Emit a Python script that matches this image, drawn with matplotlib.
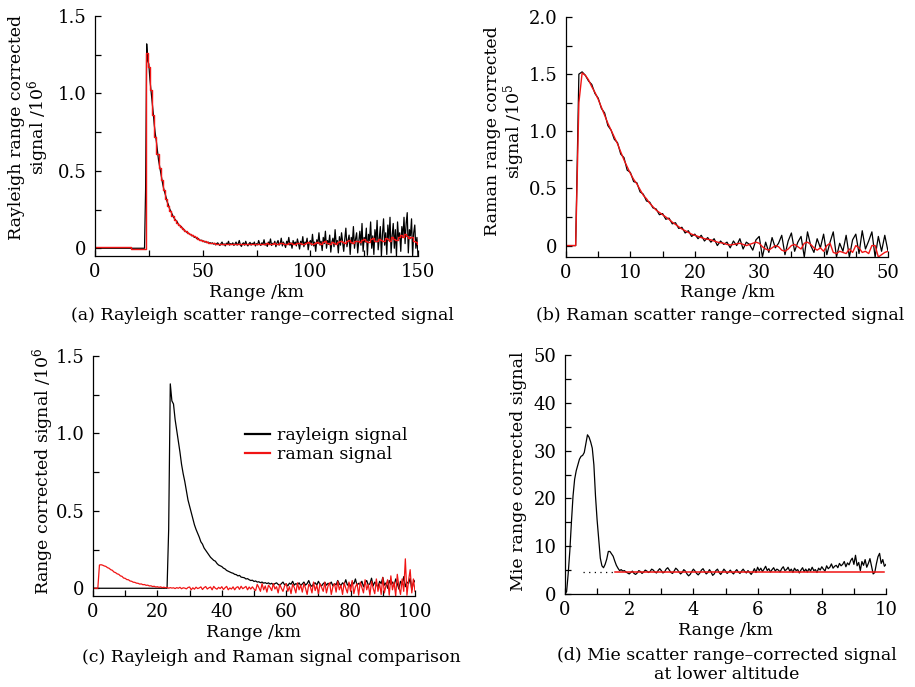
import numpy as np
import matplotlib
matplotlib.use("Agg")
import matplotlib.pyplot as plt
from matplotlib.ticker import MultipleLocator, FuncFormatter

plt.rcParams['font.family'] = ['DejaVu Serif']
plt.rcParams['mathtext.fontset'] = 'dejavuserif'

# ---------------- data ----------------
# Rayleigh raw signal (x10^6), 0.5 km steps from 0 to 150 km
ray_step = 0.5
ray_raw = [0.0] * 47 + [0.38] + [
    1.32, 1.21, 1.19, 1.09, 1.02, 0.95, 0.88, 0.80, 0.74, 0.69, 0.63, 0.57, 0.53, 0.49, 0.45, 0.41, 0.38, 0.355, 0.33, 0.30,
    0.285, 0.26, 0.245, 0.23, 0.215, 0.20, 0.19, 0.18, 0.175, 0.16, 0.15, 0.145, 0.14, 0.13, 0.125, 0.115, 0.11, 0.105, 0.10, 0.097,
    0.09, 0.088, 0.08, 0.083, 0.072, 0.07, 0.068, 0.06, 0.062, 0.055, 0.05, 0.052, 0.044, 0.047, 0.04, 0.042, 0.036, 0.04, 0.033, 0.036,
    0.03, 0.035, 0.027, 0.032, 0.022, 0.03, 0.035, 0.025, 0.018, 0.03, 0.04, 0.022, 0.028, 0.015, 0.033, 0.026, 0.045, 0.02, 0.03, 0.024,
    0.035, 0.018, 0.028, 0.04, 0.02, 0.03, 0.05, 0.022, 0.012, 0.03, 0.035, 0.02, 0.045, 0.025, 0.015, 0.03, 0.038, 0.02, 0.032, 0.026,
    0.04, 0.015, 0.03, 0.022, 0.05, 0.028, 0.018, 0.035, 0.025, 0.055, 0.02, 0.03, 0.012, 0.04, 0.028, 0.06, 0.018, 0.032, 0.025, 0.045,
    0.01, 0.035, 0.05, 0.02, 0.03, 0.065, 0.015, 0.04, 0.025, 0.005, 0.045, 0.03, 0.07, 0.02, 0.035, 0.0, 0.05, 0.025, 0.04, 0.015,
    0.06, 0.03, -0.005, 0.045, 0.025, 0.075, 0.01, 0.04, 0.03, 0.065, -0.01, 0.035, 0.05, 0.02, 0.09, 0.015, 0.04, -0.02, 0.055, 0.03,
    0.1, 0.02, 0.045, -0.015, 0.07, 0.03, 0.11, 0.0, 0.05, 0.025, 0.085, -0.025, 0.04, 0.065, 0.01, 0.12, 0.03, 0.05, -0.03, 0.075,
    0.02, 0.1, 0.04, -0.02, 0.06, 0.13, 0.01, 0.05, 0.085, -0.04, 0.07, 0.03, 0.14, 0.0, 0.06, 0.1, -0.03, 0.045, 0.11, 0.02,
    0.16, -0.02, 0.07, 0.04, 0.13, -0.045, 0.09, 0.05, 0.17, 0.0, 0.08, -0.04, 0.12, 0.04, 0.18, -0.01, 0.06, 0.14, -0.05, 0.09,
    0.19, 0.02, 0.1, -0.04, 0.15, 0.05, 0.2, -0.03, 0.08, 0.16, 0.0, 0.12, -0.05, 0.17, 0.06, 0.1, -0.02, 0.14, 0.07, 0.2,
    0.03, 0.16, 0.23, -0.03, 0.12, 0.08, 0.19, -0.05, 0.1, 0.15, 0.0, 0.07, -0.05,
]
# Rayleigh smoothed signal (x10^6), 1 km steps from 0 to 150 km
ray_smooth_step = 1.0
ray_smooth = [0.005] * 17 + [-0.003] * 7 + [
    1.26, 1.17, 1.02, 0.86, 0.72, 0.61, 0.52, 0.44, 0.375, 0.32,
    0.275, 0.24, 0.21, 0.185, 0.165, 0.15, 0.135, 0.122, 0.11, 0.1,
    0.092, 0.084, 0.077, 0.07, 0.063, 0.056, 0.05, 0.045, 0.041, 0.037,
    0.034, 0.031, 0.029, 0.028, 0.027, 0.026, 0.027, 0.028, 0.026, 0.027,
    0.029, 0.027, 0.026, 0.028, 0.027, 0.025, 0.027, 0.029, 0.028, 0.026,
    0.027, 0.029, 0.03, 0.028, 0.027, 0.03, 0.032, 0.029, 0.028, 0.031,
    0.03, 0.028, 0.032, 0.034, 0.03, 0.027, 0.031, 0.035, 0.03, 0.028,
    0.033, 0.036, 0.03, 0.027, 0.034, 0.038, 0.031, 0.025, 0.033, 0.04,
    0.035, 0.028, 0.04, 0.045, 0.034, 0.03, 0.042, 0.036, 0.028, 0.04,
    0.048, 0.038, 0.032, 0.045, 0.052, 0.04, 0.035, 0.05, 0.044, 0.038,
    0.055, 0.06, 0.045, 0.04, 0.058, 0.065, 0.05, 0.045, 0.062, 0.055,
    0.048, 0.066, 0.06, 0.05, 0.07, 0.062, 0.055, 0.075, 0.085, 0.07,
    0.09, 0.08, 0.065, 0.072, 0.05, 0.04, 0.03,
]
# Raman raw signal (x10^5), 0.5 km steps from 0 to 100 km
ram_step = 0.5
ram_raw = [
    0, 0, 0, 0, 1.50, 1.52, 1.49, 1.44, 1.41, 1.33,
    1.29, 1.20, 1.16, 1.05, 1.01, 0.93, 0.90, 0.80, 0.77, 0.66,
    0.64, 0.56, 0.55, 0.47, 0.45, 0.39, 0.38, 0.33, 0.32, 0.27,
    0.28, 0.23, 0.24, 0.19, 0.2, 0.15, 0.16, 0.11, 0.13, 0.08,
    0.1, 0.06, 0.09, 0.04, 0.07, 0.03, 0.06, 0.0, 0.04, 0.01,
    0.03, -0.02, 0.04, 0.0, 0.06, -0.03, 0.03, 0.01, -0.04, 0.05,
    0.08, -0.1, 0.03, -0.06, 0.07, -0.02, 0.02, 0.09, -0.08, 0.04,
    0.11, -0.05, 0.03, 0.08, -0.1, 0.12, 0.0, -0.06, 0.06, -0.02,
    0.1, -0.08, 0.03, 0.12, -0.1, 0.02, -0.05, 0.09, -0.1, 0.05,
    0.1, -0.07, 0.13, -0.03, 0.04, 0.12, -0.1, 0.08, -0.05, 0.09,
    -0.05, -0.15, 0.25, 0.05, -0.2, 0.3, -0.1, 0.15, -0.25, 0.2, 0.05, -0.15, 0.3, -0.05, 0.1, -0.3, 0.25, 0.0, -0.2, 0.15,
    0.3, -0.2, 0.1, -0.35, 0.25, 0.05, -0.3, 0.35, -0.1, 0.2, -0.25, 0.3, 0.0, -0.4, 0.25, 0.1, -0.3, 0.4, -0.15, 0.2,
    -0.35, 0.3, 0.05, -0.2, 0.4, -0.3, 0.15, 0.35, -0.4, 0.1, 0.3, -0.25, 0.45, -0.1, 0.2, -0.4, 0.35, 0.0, -0.3, 0.4,
    -0.2, 0.5, -0.35, 0.1, 0.3, -0.45, 0.4, 0.05, -0.3, 0.55, -0.1, 0.25, -0.45, 0.45, 0.0, -0.35, 0.6, -0.2, 0.3, -0.4,
    0.7, -0.3, 0.2, 0.55, -0.45, 0.8, -0.1, 0.4, -0.5, 0.9, 0.1, -0.4, 0.6, -0.2, 1.9, -0.45, 0.5, 1.2, -0.3, 0.6,
    -0.2,
]
# Raman smoothed signal (x10^5), 0.5 km steps from 0 to 50 km
ram_smooth = [
    0, 0, 0, 0.0, 1.25, 1.51, 1.49, 1.45, 1.39, 1.34,
    1.28, 1.21, 1.14, 1.07, 1.01, 0.95, 0.89, 0.82, 0.75, 0.69,
    0.63, 0.58, 0.54, 0.49, 0.44, 0.41, 0.37, 0.34, 0.31, 0.29,
    0.27, 0.25, 0.23, 0.205, 0.185, 0.165, 0.145, 0.13, 0.115, 0.1,
    0.09, 0.08, 0.07, 0.06, 0.055, 0.05, 0.04, 0.03, 0.025, 0.02,
    0.01, 0.005, 0.01, 0.015, 0.02, 0.01, 0.0, 0.01, 0.02, 0.03,
    0.02, -0.01, -0.03, -0.04, -0.02, 0.0, -0.01, -0.04, -0.05, -0.03,
    0.0, 0.01, -0.01, -0.03, 0.02, 0.03, 0.01, -0.02, -0.04, -0.02,
    -0.05, 0.0, 0.02, -0.06, -0.07, -0.05, -0.06, -0.07, -0.03, -0.06,
    0.0, -0.02, -0.06, -0.05, -0.07, 0.0, 0.0, -0.1, -0.08, -0.06,
    -0.05,
]
# Mie range-corrected signal, 0.05 km steps from 0 to 10 km
mie_step = 0.05
mie = [
    0.0, 0.5, 4.3, 9.0, 15.0, 20.5, 24.0, 25.8, 27.0, 28.2, 28.8, 29.0, 29.6, 31.5, 33.3, 32.8, 31.8, 30.5, 27.0, 20.5,
    15.5, 11.5, 7.5, 5.9, 5.5, 6.2, 7.3, 8.9, 8.9, 8.4, 7.9, 6.9, 6.0, 5.4, 4.9, 5.1, 4.8, 4.9, 4.6,
    4.4, 4.2, 4.5, 4.8, 4.3, 4.1, 4.4, 4.9, 4.7, 4.3, 4.6, 5.0, 4.8, 4.5, 4.7, 5.2, 5.0, 4.6, 4.4, 4.9,
    5.3, 4.9, 4.4, 4.6, 5.2, 5.5, 5.0, 4.5, 4.3, 4.8, 5.4, 5.1, 4.6, 4.2, 4.5, 5.1, 4.8, 4.2, 3.8, 4.1,
    4.7, 5.2, 4.8, 4.3, 4.0, 4.4, 5.0, 5.3, 4.7, 4.2, 4.5, 5.1, 4.6, 3.9, 4.2, 4.9, 5.2, 4.5, 4.1, 4.6,
    5.2, 4.8, 4.3, 4.6, 5.0, 4.5, 4.2, 4.7, 5.1, 4.6, 4.3, 4.8, 5.2, 4.7, 4.4, 4.9, 4.5, 4.1, 4.6, 5.3,
    4.5, 5.6, 4.9, 5.4, 4.7, 5.2, 5.8, 4.9, 5.3, 4.6, 5.1, 5.5, 4.8, 5.2, 5.0, 4.6, 5.3, 5.7, 4.9, 5.1,
    5.6, 4.8, 5.2, 4.5, 5.4, 4.9, 5.1, 4.4, 5.0, 5.5, 4.7, 5.2, 4.6, 5.3, 4.8, 5.6, 4.9, 5.1, 4.5, 5.4,
    5.0, 5.7, 5.2, 4.8, 5.9, 5.3, 5.6, 6.3, 5.4, 5.8, 6.0, 5.5, 6.4, 5.9, 6.2, 6.8, 5.7, 6.5, 6.1, 7.0,
    7.5, 6.2, 8.1, 5.9, 6.6, 4.9, 6.8, 6.0, 7.2, 5.6, 6.4, 7.4, 5.8, 4.2, 4.5, 6.3, 7.8, 8.5, 6.4, 7.2,
    5.8, 6.2,
]
mie_background = 4.6
mie_bg_range = [1.55, 9.95]
mie_dot_range = [0.55, 1.55]

captions = ["(a) Rayleigh scatter range\u2013corrected signal",
            "(b) Raman scatter range\u2013corrected signal",
            "(c) Rayleigh and Raman signal comparison",
            "(d) Mie scatter range\u2013corrected signal\nat lower altitude"]
legend_labels = ["rayleign signal", "raman signal"]

# ---------------- helpers ----------------
ray_x = np.arange(len(ray_raw)) * ray_step
ray_sx = np.arange(len(ray_smooth)) * ray_smooth_step
ram_x = np.arange(len(ram_raw)) * ram_step
ram_sx = np.arange(len(ram_smooth)) * ram_step
mie_x = np.arange(len(mie)) * mie_step

BLACK = '#000000'
RED = '#f01414'
FS_TICK = 13
FS_LAB = 12.5

W, H = 915, 687
fig = plt.figure(figsize=(9.15, 6.87), dpi=100)


def px_axes(l, t, r, b):
    return fig.add_axes([l / W, 1 - b / H, (r - l) / W, (b - t) / H])


def fmt(v, pos):
    if abs(v) < 1e-9:
        return '0'
    return f'{v:.1f}'


def style(ax, xmaj, xmin, ymaj, ymin, yfmt=None):
    for s in ['top', 'right']:
        ax.spines[s].set_visible(False)
    for s in ['left', 'bottom']:
        ax.spines[s].set_linewidth(0.9)
    ax.xaxis.set_major_locator(MultipleLocator(xmaj))
    ax.xaxis.set_minor_locator(MultipleLocator(xmin))
    ax.yaxis.set_major_locator(MultipleLocator(ymaj))
    ax.yaxis.set_minor_locator(MultipleLocator(ymin))
    ax.tick_params(which='both', direction='in', width=0.9, labelsize=FS_TICK)
    ax.tick_params(which='major', length=4)
    ax.tick_params(which='minor', length=4)
    ax.tick_params(axis='y', pad=6)
    ax.tick_params(axis='x', pad=5)
    if yfmt:
        ax.yaxis.set_major_formatter(FuncFormatter(yfmt))


# (a)
axa = px_axes(95, 16, 418, 256)
axa.plot(ray_x, ray_raw, color=BLACK, lw=0.9)
axa.plot(ray_sx, ray_smooth, color=RED, lw=1.0, drawstyle='steps-mid')
axa.set_xlim(0, 150)
axa.set_ylim(-0.05, 1.5)
style(axa, 50, 25, 0.5, 0.25, fmt)
axa.set_xlabel('Range /km', fontsize=FS_LAB, va='center')
axa.xaxis.set_label_coords(0.5, -0.154)
axa.set_ylabel('Rayleigh range corrected\nsignal /10$^6$', fontsize=FS_LAB,
               va='center', ha='center', multialignment='center', linespacing=1.0)
axa.yaxis.set_label_coords(-0.203, 0.535)

# (b)
axb = px_axes(566, 17, 888, 257)
m = ram_x <= 50
axb.plot(ram_x[m], np.array(ram_raw)[m], color=BLACK, lw=0.9)
axb.plot(ram_sx, ram_smooth, color=RED, lw=1.0)
axb.set_xlim(0, 50)
axb.set_ylim(-0.1, 2.0)
style(axb, 10, 5, 0.5, 0.25, fmt)
axb.set_xlabel('Range /km', fontsize=FS_LAB, va='center')
axb.xaxis.set_label_coords(0.5, -0.15)
axb.set_ylabel('Raman range corrected\nsignal /10$^5$', fontsize=FS_LAB,
               va='center', ha='center', multialignment='center', linespacing=1.0)
axb.yaxis.set_label_coords(-0.189, 0.523)

# (c)
axc = px_axes(93, 356, 415, 596)
m1 = ray_x <= 100
axc.plot(ray_x[m1], np.array(ray_raw)[m1], color=BLACK, lw=0.9,
         label=legend_labels[0])
axc.plot(ram_x, np.array(ram_raw) / 10.0, color=RED, lw=0.9,
         label=legend_labels[1])
axc.set_xlim(0, 100)
axc.set_ylim(-0.05, 1.5)
style(axc, 20, 10, 0.5, 0.25, fmt)
axc.set_xlabel('Range /km', fontsize=FS_LAB, va='center')
axc.xaxis.set_label_coords(0.5, -0.154)
axc.set_ylabel('Range corrected signal /10$^6$', fontsize=FS_LAB, va='center', ha='center')
axc.yaxis.set_label_coords(-0.155, 0.52)
leg = axc.legend(loc='upper left', bbox_to_anchor=(0.472, 0.704), frameon=False,
                 fontsize=FS_LAB, borderpad=0, borderaxespad=0, handlelength=1.45,
                 handletextpad=0.4, labelspacing=0.1)
for ln in leg.get_lines():
    ln.set_linewidth(1.6)

# (d)
axd = px_axes(565, 355, 886, 594)
axd.plot(mie_dot_range, [mie_background, mie_background], color=BLACK, lw=0.9,
         linestyle=(0, (1, 3.5)))
axd.plot(mie_x, mie, color=BLACK, lw=0.9)
axd.plot(mie_bg_range, [mie_background, mie_background], color=RED, lw=1.1)
axd.set_xlim(0, 10)
axd.set_ylim(0, 50)
style(axd, 2, 1, 10, 5)
axd.set_xlabel('Range /km', fontsize=FS_LAB, va='center')
axd.xaxis.set_label_coords(0.5, -0.151)
axd.set_ylabel('Mie range corrected signal', fontsize=FS_LAB, va='center', ha='center')
axd.yaxis.set_label_coords(-0.146, 0.512)

# captions
cap_pos = [(262, 316), (720, 316), (271, 657), (727, 665)]
for txt, (cx, cy) in zip(captions, cap_pos):
    fig.text(cx / W, 1 - cy / H, txt, fontsize=FS_LAB, ha='center', va='center',
             multialignment='center', linespacing=1.15)

fig.savefig('out.png', dpi=100, facecolor='white')
